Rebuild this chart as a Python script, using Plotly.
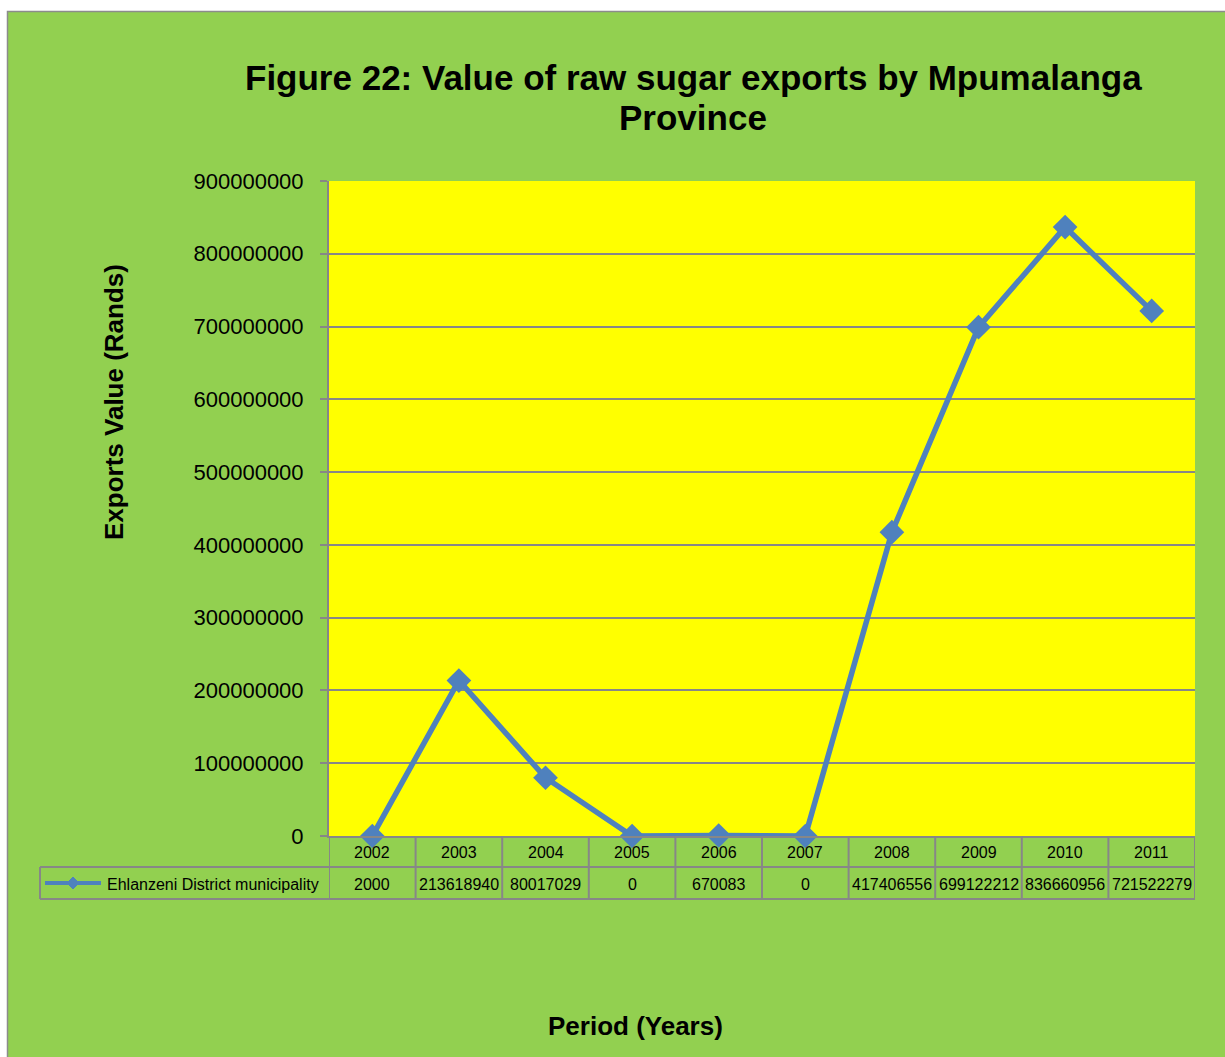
import plotly.graph_objects as go

years = ["2002", "2003", "2004", "2005", "2006", "2007", "2008", "2009", "2010", "2011"]
values = [2000, 213618940, 80017029, 0, 670083, 0, 417406556, 699122212, 836660956, 721522279]
value_labels = ["2000", "213618940", "80017029", "0", "670083", "0",
                "417406556", "699122212", "836660956", "721522279"]
series_name = "Ehlanzeni District municipality"
title_lines = ["Figure 22: Value of raw sugar exports by Mpumalanga", "Province"]
y_title = "Exports Value (Rands)"
x_title = "Period (Years)"

W, H = 1225, 1057
L, R, T, B = 329, 1195, 181, 836
PW, PH = R - L, B - T

def px_x(p):  # page pixel -> paper x
    return (p - L) / PW

def px_y(p):  # page pixel -> paper y
    return (B - p) / PH

GREEN = "#92D050"
GRID = "#878787"
BLUE = "#4F81BD"
SANS = "Liberation Sans, Arial, sans-serif"

fig = go.Figure()
fig.add_trace(go.Scatter(
    x=list(range(len(years))), y=values, mode="lines+markers", name=series_name,
    line=dict(color=BLUE, width=5.5),
    marker=dict(symbol="diamond", size=19, color=BLUE),
    cliponaxis=False, showlegend=False,
))

shapes = []
# white margin strips + chart area border (top / left)
shapes.append(dict(type="rect", xref="paper", yref="paper",
                   x0=px_x(-20), x1=px_x(1240), y0=px_y(-20), y1=px_y(11),
                   fillcolor="white", line=dict(width=0), layer="below"))
shapes.append(dict(type="rect", xref="paper", yref="paper",
                   x0=px_x(-20), x1=px_x(7), y0=px_y(-20), y1=px_y(1080),
                   fillcolor="white", line=dict(width=0), layer="below"))
shapes.append(dict(type="path", xref="paper", yref="paper",
                   path=f"M {px_x(7.5)},{px_y(1070)} L {px_x(7.5)},{px_y(11.5)} L {px_x(1240)},{px_y(11.5)}",
                   line=dict(color="#8C8C8C", width=1.5), layer="above"))

row1_bot = px_y(867)
row2_bot = px_y(899)
for i in range(len(years) + 1):
    shapes.append(dict(type="line", xref="x", yref="paper",
                       x0=i - 0.5, x1=i - 0.5, y0=0, y1=row2_bot,
                       line=dict(color=GRID, width=2)))
shapes.append(dict(type="line", xref="paper", yref="paper",
                   x0=px_x(40), x1=1, y0=row1_bot, y1=row1_bot,
                   line=dict(color=GRID, width=2)))
shapes.append(dict(type="line", xref="paper", yref="paper",
                   x0=px_x(40), x1=1, y0=row2_bot, y1=row2_bot,
                   line=dict(color=GRID, width=2)))
shapes.append(dict(type="line", xref="paper", yref="paper",
                   x0=px_x(40), x1=px_x(40), y0=row1_bot, y1=row2_bot,
                   line=dict(color=GRID, width=2)))
# legend key
ky = px_y(883)
shapes.append(dict(type="line", xref="paper", yref="paper",
                   x0=px_x(45), x1=px_x(101), y0=ky, y1=ky,
                   line=dict(color=BLUE, width=4)))
cx, cy, dx, dy = 73, 883, 6, 6
shapes.append(dict(type="path", xref="paper", yref="paper",
                   path=(f"M {px_x(cx-dx)},{px_y(cy)} L {px_x(cx)},{px_y(cy-dy)} "
                         f"L {px_x(cx+dx)},{px_y(cy)} L {px_x(cx)},{px_y(cy+dy)} Z"),
                   fillcolor=BLUE, line=dict(color=BLUE, width=1)))

tfont = dict(family=SANS, size=16, color="black")
annotations = []
for i, (yr, lab) in enumerate(zip(years, value_labels)):
    annotations.append(dict(x=i, xref="x", y=px_y(852), yref="paper", text=yr,
                            showarrow=False, xanchor="center", yanchor="middle", font=tfont))
    annotations.append(dict(x=i, xref="x", y=px_y(884), yref="paper", text=lab,
                            showarrow=False, xanchor="center", yanchor="middle", font=tfont))
annotations.append(dict(x=px_x(213), xref="paper", y=px_y(884), yref="paper",
                        text=series_name, showarrow=False, xanchor="center", yanchor="middle",
                        font=tfont))
annotations.append(dict(x=px_x(693), xref="paper", y=px_y(78), yref="paper",
                        text=f"<b>{title_lines[0]}</b>", showarrow=False,
                        xanchor="center", yanchor="middle",
                        font=dict(family=SANS, size=35, color="black")))
annotations.append(dict(x=px_x(693), xref="paper", y=px_y(117), yref="paper",
                        text=f"<b>{title_lines[1]}</b>", showarrow=False,
                        xanchor="center", yanchor="middle",
                        font=dict(family=SANS, size=35, color="black")))
annotations.append(dict(x=px_x(114), xref="paper", y=px_y(402), yref="paper",
                        text=f"<b>{y_title}</b>", showarrow=False, textangle=-90,
                        xanchor="center", yanchor="middle",
                        font=dict(family=SANS, size=26, color="black")))
annotations.append(dict(x=px_x(635), xref="paper", y=px_y(1026), yref="paper",
                        text=f"<b>{x_title}</b>", showarrow=False,
                        xanchor="center", yanchor="middle",
                        font=dict(family=SANS, size=26, color="black")))

fig.update_layout(
    width=W, height=H,
    margin=dict(l=L, r=W - R, t=T, b=H - B, pad=0),
    paper_bgcolor=GREEN, plot_bgcolor="#FFFF00",
    shapes=shapes, annotations=annotations,
    xaxis=dict(range=[-0.5, len(years) - 0.5],
               showticklabels=False, ticks="", showgrid=False,
               showline=True, linecolor=GRID, linewidth=2, zeroline=False),
    yaxis=dict(range=[0, 900000000], dtick=100000000, tickformat="d",
               showgrid=True, gridcolor=GRID, gridwidth=2,
               showline=True, linecolor=GRID, linewidth=2,
               ticks="outside", ticklen=7, tickwidth=2, tickcolor=GRID,
               ticklabelstandoff=12, zeroline=False,
               tickfont=dict(family=SANS, size=22, color="black")),
)

fig.write_html(
    "out.html",
    config={"displayModeBar": False},
    post_script="document.body.style.margin='0';document.body.style.overflow='hidden';"
                "document.documentElement.style.overflow='hidden';",
)
